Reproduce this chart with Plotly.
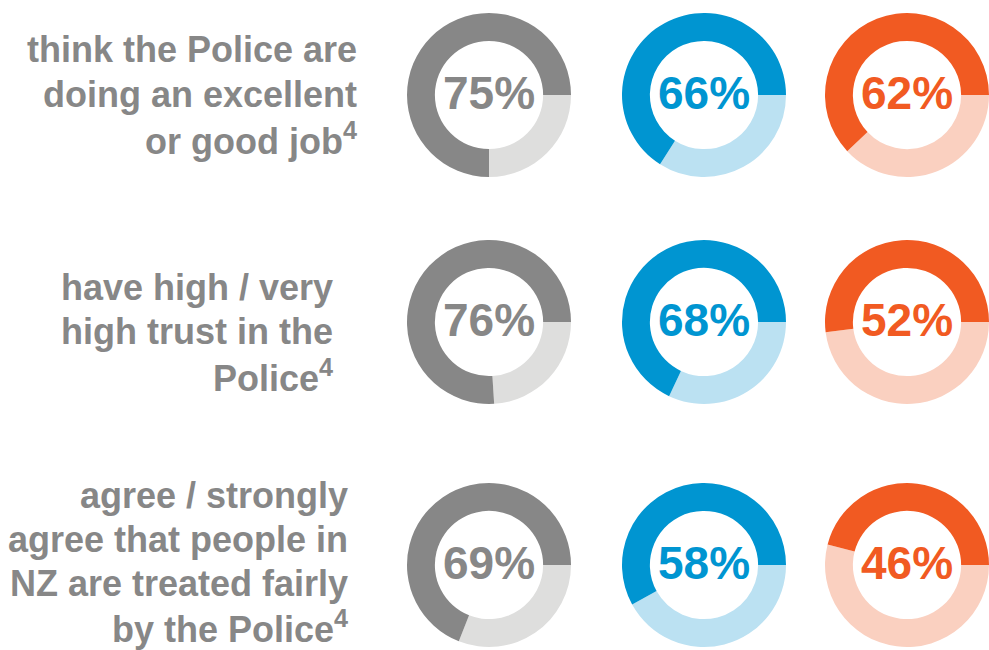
import plotly.graph_objects as go

W, H = 989, 650

questions = [
    "think the Police are<br>doing an excellent<br>or good job<sup>4</sup>",
    "have high / very<br>high trust in the<br>Police<sup>4</sup>",
    "agree / strongly<br>agree that people in<br>NZ are treated fairly<br>by the Police<sup>4</sup>",
]
groups = ["Group A", "Group B", "Group C"]
values = [
    [75, 66, 62],
    [76, 68, 52],
    [69, 58, 46],
]
dark_colors = ["#878787", "#0095D1", "#F15A22"]
light_colors = ["#DEDEDD", "#BBE1F2", "#FAD0C0"]
text_color = "#878787"

# layout (pixels)
col_cx = [489, 704, 918]
row_cy = [95, 322, 565]
R = 82
label_right = [359, 335, 350]
label_first_line = [50, 287, 495]
line_steps = [44.5, 44.5, 44]

fig = go.Figure()
for r in range(3):
    for c in range(3):
        v = values[r][c]
        cx = min(col_cx[c], W - R)
        cy = row_cy[r]
        x0, x1 = (cx - R) / W, (cx + R) / W
        y0, y1 = 1 - (cy + R) / H, 1 - (cy - R) / H
        fig.add_trace(go.Pie(
            values=[100 - v, v],
            labels=[groups[c] + " other", groups[c] + " yes"],
            marker=dict(colors=[light_colors[c], dark_colors[c]], line=dict(width=0)),
            hole=0.66,
            sort=False,
            direction="counterclockwise",
            rotation=90,
            textinfo="none",
            hoverinfo="label+value",
            showlegend=False,
            domain=dict(x=[max(0, x0), min(1, x1)], y=[max(0, y0), min(1, y1)]),
        ))
        fig.add_annotation(
            x=cx / W, y=1 - (cy - 2) / H, xref="paper", yref="paper",
            text=f"<b>{v}%</b>", showarrow=False,
            font=dict(family="Liberation Sans, Arial", size=46, color=dark_colors[c]),
            xanchor="center", yanchor="middle",
        )
    for i, line in enumerate(questions[r].split("<br>")):
        fig.add_annotation(
            x=label_right[r] / W, y=1 - (label_first_line[r] + i * line_steps[r]) / H,
            xref="paper", yref="paper",
            text=f"<b>{line}</b>", showarrow=False, align="right",
            font=dict(family="Liberation Sans, Arial", size=36, color=text_color),
            xanchor="right", yanchor="middle",
        )

fig.update_layout(
    width=W, height=H, margin=dict(l=0, r=0, t=0, b=0),
    paper_bgcolor="white", plot_bgcolor="white",
)
fig.write_html("out.html")
